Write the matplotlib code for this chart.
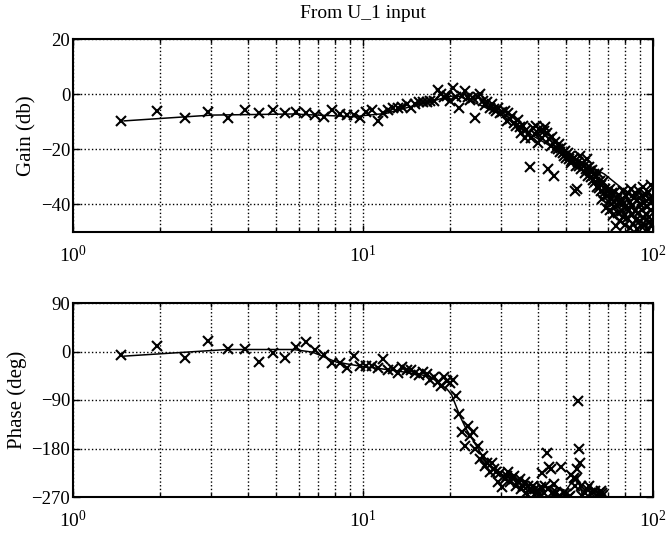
import numpy as np
import matplotlib.pyplot as plt
from matplotlib.ticker import LogLocator, FixedLocator

plt.rcParams['font.family'] = ['Liberation Serif', 'DejaVu Serif']
plt.rcParams['mathtext.fontset'] = 'stix'
plt.rcParams['font.size'] = 12

# measured frequency bins (Hz)
freq = [1.46, 1.95, 2.44, 2.93, 3.42, 3.91, 4.39, 4.88, 5.37, 5.86,
        6.35, 6.84, 7.32, 7.81, 8.30, 8.79, 9.28, 9.77, 10.25, 10.74,
        11.23, 11.72, 12.21, 12.70, 13.18, 13.67, 14.16, 14.65, 15.14, 15.63,
        16.11, 16.60, 17.09, 17.58, 18.07, 18.55, 19.04, 19.53, 20.02, 20.51,
        21.00, 21.48, 21.97, 22.46, 22.95, 23.44, 23.93, 24.41, 24.90, 25.39,
        25.88, 26.37, 26.86, 27.34, 27.83, 28.32, 28.81, 29.30, 29.79, 30.27,
        30.76, 31.25, 31.74, 32.23, 32.71, 33.20, 33.69, 34.18, 34.67, 35.16,
        35.64, 36.13, 36.62, 37.11, 37.60, 38.09, 38.57, 39.06, 39.55, 40.04,
        40.53, 41.02, 41.50, 41.99, 42.48, 42.97, 43.46, 43.95, 44.43, 44.92,
        45.41, 45.90, 46.39, 46.88, 47.36, 47.85, 48.34, 48.83, 49.32, 49.80,
        50.29, 50.78, 51.27, 51.76, 52.25, 52.73, 53.22, 53.71, 54.20, 54.69,
        55.18, 55.66, 56.15, 56.64, 57.13, 57.62, 58.11, 58.59, 59.08, 59.57,
        60.06, 60.55, 61.04, 61.52, 62.01, 62.50, 62.99, 63.48, 63.96, 64.45,
        64.94, 65.43, 65.92, 66.41, 66.89, 67.38, 67.87, 68.36, 68.85, 69.34,
        69.82, 70.31, 70.80, 71.29, 71.78, 72.27, 72.75, 73.24, 73.73, 74.22,
        74.71, 75.20, 75.68, 76.17, 76.66, 77.15, 77.64, 78.13, 78.61, 79.10,
        79.59, 80.08, 80.57, 81.05, 81.54, 82.03, 82.52, 83.01, 83.50, 83.98,
        84.47, 84.96, 85.45, 85.94, 86.43, 86.91, 87.40, 87.89, 88.38, 88.87,
        89.36, 89.84, 90.33, 90.82, 91.31, 91.80, 92.29, 92.77, 93.26, 93.75,
        94.24, 94.73, 95.21, 95.70, 96.19, 96.68, 97.17, 97.66, 98.14, 98.63,
        99.12, 99.61]

# measured gain (db)
gain = [-9.7, -6.1, -8.7, -6.3, -8.7, -5.8, -6.7, -5.7, -6.9, -6.3,
        -7.0, -7.6, -8.2, -5.7, -7.3, -7.5, -7.5, -8.5, -6.4, -5.7,
        -9.7, -6.7, -5.7, -5.2, -4.9, -4.5, -3.6, -4.9, -3.5, -3.0,
        -2.8, -2.8, -2.5, -2.4, 1.6, 0.0, -1.2, -0.5, -2.4, 2.4,
        -1.0, -4.9, -0.6, 1.2, -1.0, -2.0, -1.5, -8.5, -1.0, 0.0,
        -2.5, -4.0, -3.0, -5.0, -3.6, -5.5, -6.0, -5.0, -6.7, -6.5,
        -6.1, -9.7, -6.7, -9.1, -8.0, -10.3, -11.5, -9.5, -12.0, -14.0,
        -11.5, -15.8, -13.0, -14.5, -26.5, -16.0, -12.1, -14.5, -11.5, -17.6,
        -12.7, -13.5, -16.0, -13.3, -12.0, -14.0, -27.3, -16.4, -18.8, -15.5,
        -29.7, -17.5, -19.4, -20.0, -18.0, -21.0, -19.5, -21.2, -22.5, -20.5,
        -23.0, -21.5, -23.6, -22.4, -25.0, -24.0, -23.0, -35.0, -26.0, -34.5,
        -24.5, -26.0, -22.4, -27.0, -25.5, -26.0, -28.5, -27.0, -23.6, -29.7,
        -26.5, -28.0, -30.0, -27.5, -31.0, -29.0, -32.0, -30.0, -33.5, -28.5,
        -34.0, -31.5, -35.0, -33.0, -38.2, -32.0, -36.0, -34.5, -41.2, -37.0,
        -35.0, -39.0, -34.5, -42.0, -37.5, -36.0, -44.0, -39.0, -35.5, -41.0,
        -48.0, -38.0, -43.0, -36.5, -40.0, -46.0, -38.5, -42.5, -35.0, -44.5,
        -39.5, -47.5, -37.0, -41.5, -45.0, -36.0, -42.0, -48.5, -39.0, -34.5,
        -44.0, -40.5, -47.0, -37.5, -42.5, -36.0, -45.5, -49.0, -38.5, -43.0,
        -35.0, -46.0, -40.0, -48.0, -37.0, -42.0, -33.5, -45.0, -39.5, -47.5,
        -36.5, -43.5, -41.0, -49.0, -35.5, -44.5, -38.0, -46.5, -33.0, -42.0,
        -48.0, -38.0]

# measured phase (deg), first bins only (rest is below -270)
phase = [-5.6, 11.0, -11.7, 20.0, 5.0, 5.0, -20.0, -2.5, -11.7, 8.6,
         17.0, 2.0, -5.6, -21.0, -21.0, -30.0, -8.0, -27.0, -27.0, -27.0,
         -30.0, -13.0, -35.0, -32.0, -40.0, -28.0, -35.0, -35.0, -40.0, -44.0,
         -38.0, -41.0, -52.0, -48.0, -57.0, -64.0, -47.0, -55.0, -58.0, -52.0,
         -82.0, -116.0, -150.0, -175.0, -138.0, -157.0, -150.0, -181.0, -175.0, -200.0,
         -194.0, -212.0, -206.0, -224.0, -206.0, -218.0, -224.0, -243.0, -225.0, -252.0,
         -237.0, -231.0, -224.0, -243.0, -234.0, -231.0, -249.0, -243.0, -237.0, -255.0,
         -249.0, -243.0, -262.0, -249.0, -255.0, -258.0, -249.0, -255.0, -262.0, -258.0,
         -265.0, -252.0, -225.0, -262.0, -250.0, -188.0, -255.0, -215.0, -218.0, -262.0,
         -246.0, -265.0, -261.0, -272.0, -268.0, -275.0, -215.0, -280.0, -262.0, -278.0,
         -265.0, -285.0, -270.0, -268.0, -230.0, -282.0, -234.0, -249.0, -237.0, -218.0,
         -92.0, -181.0, -206.0, -250.0, -268.0, -285.0, -262.0, -300.0, -255.0, -290.0,
         -249.0, -310.0, -262.0, -295.0, -260.0, -320.0, -258.0, -300.0, -268.0, -330.0,
         -262.0, -310.0, -258.0, -340.0, -262.0, -266.0, -300.0, -290.0]

# fitted model curves
gain_fit_freq = [1.5, 3, 5.7, 9.4, 10, 12, 14.5, 17.5, 19.5, 21, 23, 26,
                 30, 37, 48, 58, 68, 80, 90, 100]
gain_fit = [-9.7, -7.6, -7.2, -8.2, -7.8, -7.0, -4.6, -2.4, -1.0, -0.5, -2.0, -4.5,
            -7.5, -14.0, -21.0, -25.0, -29.0, -35.0, -38.0, -40.0]
phase_fit_freq = [1.5, 3.4, 5.75, 6.7, 8.1, 9.5, 13.1, 17.0, 19.5, 20.2, 21.6,
                  22.7, 24.6, 26.6, 29.7, 34.8, 40.7, 45, 50, 54.6, 56.8, 58]
phase_fit = [-8.6, 3.7, 3.7, -1.2, -19.7, -26, -36, -46, -70, -80, -120,
             -144, -175, -206, -227, -240, -255, -249, -258, -230, -261, -290]

fig = plt.figure(figsize=(6.68, 5.33), dpi=100)
ax1 = fig.add_axes([73/668, 1-232/533, 580/668, 193/533])
ax2 = fig.add_axes([73/668, 1-497/533, 580/668, 194/533])

ax1.plot(gain_fit_freq, gain_fit, color='black', lw=1.1)
ax1.plot(freq, gain, 'x', color='black', ms=7.5, mew=1.5)
ax2.plot(phase_fit_freq, phase_fit, color='black', lw=1.1)
ax2.plot(freq[:len(phase)], phase, 'x', color='black', ms=7.5, mew=1.5)

ax1.set_ylim(-50, 20)
ax1.yaxis.set_major_locator(FixedLocator([-40, -20, 0, 20]))
ax2.set_ylim(-270, 90)
ax2.yaxis.set_major_locator(FixedLocator([-270, -180, -90, 0, 90]))

for ax in (ax1, ax2):
    ax.set_xscale('log')
    ax.set_xlim(1, 100)
    ax.xaxis.set_major_locator(LogLocator(base=10))
    ax.xaxis.set_minor_locator(LogLocator(base=10, subs=np.arange(2, 10)))
    ax.grid(True, which='both', axis='x', color='black', ls=':', lw=1.0)
    ax.grid(True, which='major', axis='y', color='black', ls=':', lw=1.0)
    ax.tick_params(direction='in', which='both', top=True, right=True, width=1.0)
    ax.tick_params(axis='y', labelsize=13.5, pad=2)
    ax.tick_params(axis='x', which='major', labelsize=14, pad=9)
    ax.tick_params(which='major', length=5)
    ax.tick_params(which='minor', length=3)
    for s in ax.spines.values():
        s.set_linewidth(1.5)

ax1.set_title('From U_1 input', fontsize=14, pad=15)
ax1.set_ylabel('Gain (db)', fontsize=15, labelpad=3)
ax2.set_ylabel('Phase (deg)', fontsize=15, labelpad=3)

fig.savefig('out.png', dpi=100)
